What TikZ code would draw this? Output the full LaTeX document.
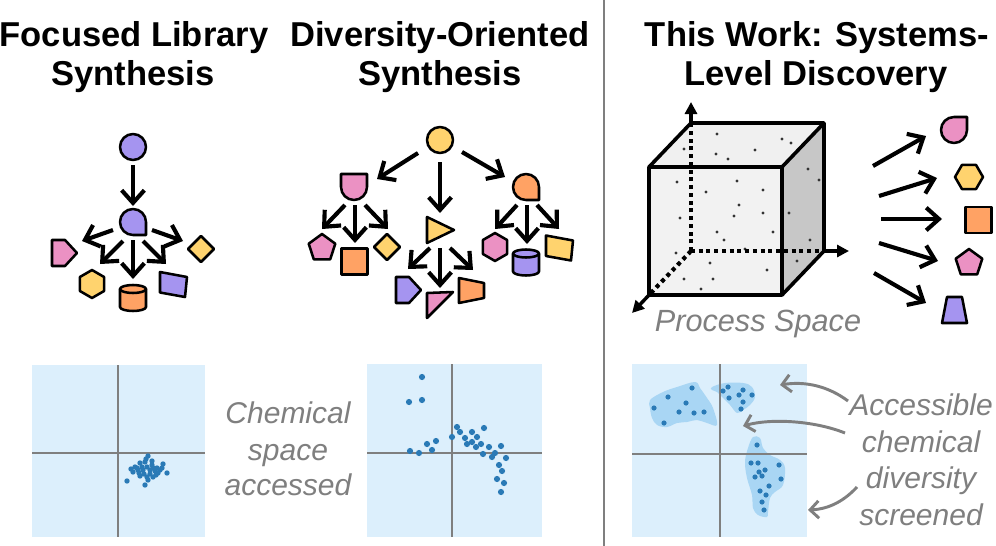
\documentclass[tikz,border=0pt]{standalone}
\usepackage{fontspec}
\setmainfont{Liberation Sans}
\usetikzlibrary{arrows.meta}
\definecolor{cpur}{HTML}{A594F0}
\definecolor{cpink}{HTML}{EB91C3}
\definecolor{cyel}{HTML}{FFD36E}
\definecolor{corg}{HTML}{FFA264}
\definecolor{gline}{HTML}{7F7F7F}
\definecolor{pbg}{HTML}{DCEFFC}
\definecolor{pblob}{HTML}{A9D6F4}
\definecolor{pdot}{HTML}{2A7AB6}
\begin{document}
\begin{tikzpicture}[x=0.75pt,y=-0.75pt,
  shp/.style={draw=black,line width=1.9pt,line join=round},
  arr/.style={line width=3.1pt,-{Straight Barb[length=9.5pt,width=17pt]}},
  garr/.style={draw=gline,line width=2.2pt,-{Straight Barb[length=6.5pt,width=13pt]}},
  head/.style={font=\fontsize{25.9}{30}\selectfont\bfseries,anchor=base,inner sep=0pt},
  gtxt/.style={font=\fontsize{22.5}{27}\selectfont\itshape,text=gline,anchor=base,inner sep=0pt},
  axline/.style={draw=gline,line width=2.2pt},
  dt/.style={fill=pdot},
  pics/circ/.style={code={\draw[shp,fill=#1] (0,0) circle[radius=13];}},
  pics/dropbr/.style={code={\draw[shp,fill=#1] (13,0) arc[start angle=0,end angle=-270,radius=13] -- (13,13) -- cycle;}},
  pics/droptr/.style={code={\draw[shp,fill=#1] (0,-13) arc[start angle=270,end angle=0,radius=13] -- (13,-13) -- cycle;}},
  pics/shield/.style={code={\draw[shp,fill=#1] (-13,-13) -- (13,-13) -- (13,0) arc[start angle=0,end angle=180,radius=13] -- cycle;}},
  pics/plate/.style={code={\draw[shp,fill=#1] (-12.5,-13) -- (0.5,-13) -- (12.5,0) -- (0.5,13) -- (-12.5,13) -- cycle;}},
  pics/hexp/.style={code={\draw[shp,fill=#1] (0,-14) -- (12.1,-7) -- (12.1,7) -- (0,14) -- (-12.1,7) -- (-12.1,-7) -- cycle;}},
  pics/hexf/.style={code={\draw[shp,fill=#1] (-14,0) -- (-7,-12.1) -- (7,-12.1) -- (14,0) -- (7,12.1) -- (-7,12.1) -- cycle;}},
  pics/cyl/.style={code={\draw[shp,fill=#1] (-13,-9) -- (-13,9) arc[start angle=180,end angle=0,x radius=13,y radius=4] -- (13,-9) arc[start angle=0,end angle=-180,x radius=13,y radius=4] -- cycle;
     \draw[shp] (-13,-9) arc[start angle=180,end angle=0,x radius=13,y radius=4];}},
  pics/diam/.style={code={\draw[shp,fill=#1] (0,-13) -- (13,0) -- (0,13) -- (-13,0) -- cycle;}},
  pics/sq/.style={code={\draw[shp,fill=#1] (-13,-13) rectangle (13,13);}},
  pics/pent/.style={code={\draw[shp,fill=#1] (0,-14) -- (13.3,-4.3) -- (8.2,11.3) -- (-8.2,11.3) -- (-13.3,-4.3) -- cycle;}},
  pics/trir/.style={code={\draw[shp,fill=#1] (-13,-13) -- (14,0) -- (-13,13) -- cycle;}},
  pics/trirt/.style={code={\draw[shp,fill=#1] (-13,-12) -- (13,-13) -- (-13,13) -- cycle;}},
  pics/trap/.style={code={\draw[shp,fill=#1] (-12.5,-12.5) -- (12.5,-7.5) -- (12.5,7.5) -- (-12.5,12.5) -- cycle;}},
  pics/quad/.style={code={\draw[shp,fill=#1] (-13,-12.5) -- (14,-7.5) -- (12,12.5) -- (-13,8) -- cycle;}},
  pics/trapu/.style={code={\draw[shp,fill=#1] (-7.5,-13) -- (7.5,-13) -- (12.5,13) -- (-12.5,13) -- cycle;}},
]
\useasboundingbox (0,0) rectangle (996,546);
\fill[white] (0,0) rectangle (996,546);

% divider
\draw[draw=gline,line width=1.3pt] (604,0) -- (604,546);

% headers
\node[head] (h1a) at (134,46) {Focused Library};
\node[head] (h1b) at (133,85) {Synthesis};
\node[head] (h2a) at (440,46) {Diversity-Oriented};
\node[head] (h2b) at (440,85) {Synthesis};
\node[head] (h3a) at (817,46) {This Work: Systems-};
\node[head] (h3b) at (816,85) {Level Discovery};

% ---------- left tree ----------
\pic at (133,147) {circ=cpur};
\pic at (133,222) {dropbr=cpur};
\pic at (64.5,253) {plate=cpink};
\pic at (92,284) {hexp=cyel};
\pic at (133,298) {cyl=corg};
\pic at (173,284.5) {quad=cpur};
\pic at (201,249) {diam=cyel};
\coordinate (la0) at (133,165); \coordinate (lb0) at (133,206);
\coordinate (la1) at (113,230); \coordinate (lb1) at (82,241);
\coordinate (la2) at (123,241); \coordinate (lb2) at (100,264);
\coordinate (la3) at (133,240); \coordinate (lb3) at (133,279);
\coordinate (la4) at (143,241); \coordinate (lb4) at (166,264);
\coordinate (la5) at (152,230); \coordinate (lb5) at (183,241);
\foreach \i in {0,...,5} {\draw[arr] (la\i) -- (lb\i);}

% ---------- middle tree ----------
\pic at (440,140) {circ=cyel};
\pic at (354,187) {shield=cpink};
\pic at (440,230) {trir=cyel};
\pic at (526,187) {dropbr=corg};
\pic at (322,248) {pent=cpink};
\pic at (354.5,261.5) {sq=corg};
\pic at (387,247) {diam=cyel};
\pic at (408.5,290) {plate=cpur};
\pic at (440,305) {trirt=cpink};
\pic at (471.5,290.5) {trap=corg};
\pic at (495,247) {hexp=cpink};
\pic at (526,262.5) {cyl=cpur};
\pic at (559,248) {quad=cyel};
\coordinate (ma1) at (418,153); \coordinate (mb1) at (377,179);
\coordinate (ma2) at (440,162); \coordinate (mb2) at (440,213);
\coordinate (ma3) at (462,152); \coordinate (mb3) at (505,177);
\coordinate (ma4) at (345,205); \coordinate (mb4) at (322,229);
\coordinate (ma5) at (355,205); \coordinate (mb5) at (355,243);
\coordinate (ma6) at (365,205); \coordinate (mb6) at (388,229);
\coordinate (ma7) at (430,248); \coordinate (mb7) at (408,269);
\coordinate (ma8) at (440,248); \coordinate (mb8) at (440,288);
\coordinate (ma9) at (450,248); \coordinate (mb9) at (473,270);
\coordinate (ma10) at (517,205); \coordinate (mb10) at (495,229);
\coordinate (ma11) at (527,205); \coordinate (mb11) at (527,244);
\coordinate (ma12) at (537,205); \coordinate (mb12) at (559,229);
\foreach \i in {1,...,12} {\draw[arr] (ma\i) -- (mb\i);}

% ---------- cube ----------
\coordinate (f1) at (649,167); \coordinate (f2) at (782,167);
\coordinate (f3) at (782,295); \coordinate (f4) at (649,295);
\coordinate (b1) at (691,123); \coordinate (b2) at (824,123);
\coordinate (b3) at (824,251); \coordinate (b4) at (691,251);
\coordinate (ax1) at (691,102); \coordinate (ax2) at (849,251); \coordinate (ax3) at (632,313);
\fill[black!6] (f1) -- (b1) -- (b2) -- (f2) -- cycle;
\fill[black!22] (f2) -- (b2) -- (b3) -- (f3) -- cycle;
\fill[black!5] (f1) -- (f2) -- (f3) -- (f4) -- cycle;
\foreach \p/\c in {677/182,737/181,706/192,763/190,739/205,680/218,734/216,763/213,717/232,724/240,773/232,676/253,710/263,767/270,713/279,684/279,701/289,745/249,717/134,782/139,791/143,684/149,716/154,728/159,755/150,808/169,819/180,789/213,810/240,797/261}
  {\fill[black!80] (\p,\c) circle[radius=1.6];}
\draw[line width=3.1pt,dash pattern=on 3pt off 2.8pt] (b4) -- (b1);
\draw[line width=3.1pt,dash pattern=on 3pt off 2.8pt] (b4) -- (b3);
\draw[line width=3.1pt,dash pattern=on 3pt off 2.8pt] (b4) -- (f4);
\draw[line width=2.6pt,-{Triangle[length=9pt,width=9pt]}] (b1) -- (ax1);
\draw[line width=2.6pt,-{Triangle[length=9pt,width=9pt]}] (b3) -- (ax2);
\draw[line width=2.6pt,-{Triangle[length=9pt,width=9pt]}] (f4) -- (ax3);
\draw[line width=2.7pt,line join=round] (f4) -- (f1) -- (b1) -- (b2) -- (b3) -- (f3) -- cycle (f1) -- (f2) -- (f3) (f2) -- (b2);
\node[gtxt,font=\fontsize{23}{27}\selectfont\itshape] (ps) at (758,331) {Process Space};

% right outputs
\pic at (954,130) {droptr=cpink};
\pic at (969,177) {hexf=cyel};
\pic at (978.5,220) {sq=corg};
\pic at (969,263) {pent=cpink};
\pic at (954.5,310) {trapu=cpur};
\coordinate (ra1) at (873,166); \coordinate (rb1) at (926,136);
\coordinate (ra2) at (879,196); \coordinate (rb2) at (937,178);
\coordinate (ra3) at (881,219); \coordinate (rb3) at (942,219);
\coordinate (ra4) at (879,243); \coordinate (rb4) at (938,261);
\coordinate (ra5) at (874,273); \coordinate (rb5) at (926,303);
\foreach \i in {1,...,5} {\draw[arr] (ra\i) -- (rb\i);}

% ---------- plot 1 ----------
\fill[pbg] (32,365) rectangle (205,537);
\draw[axline] (118,365) -- (118,537) (32,453) -- (205,453);
\foreach \p/\c in {148/456,135/467,140/463,145/462,152/465,157/468,163/464,167/473,127/481,145/485,147/477,153/477,158/473,133/472,138/470,143/470,150/470,160/470,142/467,147/467,137/468,155/471,150/474,144/474,139/473,146/459,152/461,140/476,156/475,131/469,148/480,153/468,162/468}
  {\fill[dt] (\p,\c) circle[radius=2.7];}
\node[gtxt] (c1) at (288,423) {Chemical};
\node[gtxt] (c2) at (288,460) {space};
\node[gtxt] (c3) at (288,495) {accessed};

% ---------- plot 2 ----------
\fill[pbg] (367,364) rectangle (542,537);
\draw[axline] (452,364) -- (452,537) (367,453) -- (542,453);
\foreach \p/\c in {422/377,409/402,422/400,457/427,460/432,452/437,465/438,472/432,484/428,477/437,467/444,472/442,476/447,481/444,489/447,501/446,483/454,492/457,495/453,506/458,499/465,502/471,497/479,504/483,501/492,436/441,427/444,432/450,410/451,419/453}
  {\fill[dt] (\p,\c) circle[radius=3.1];}

% ---------- plot 3 ----------
\fill[pbg] (632,364) rectangle (807,537);
\fill[pblob] plot[smooth cycle,tension=0.6] coordinates {(650,400) (663,392) (677,387) (695,382) (700,388) (707,398) (713,408) (717,425) (707,423) (697,420) (687,422) (677,423) (667,427) (657,425) (652,418) (650,408)};
\fill[pblob] plot[smooth cycle,tension=0.6] coordinates {(712,387) (725,383) (743,383) (752,387) (755,397) (750,405) (743,410) (737,413) (730,405) (723,398) (717,392) (712,390)};
\fill[pblob] plot[smooth cycle,tension=0.6] coordinates {(753,437) (760,438) (763,448) (770,455) (780,460) (785,468) (783,485) (775,492) (770,498) (768,512) (767,517) (758,515) (753,508) (752,495) (747,478) (745,462) (748,448)};
\draw[axline] (720,364) -- (720,537) (632,454) -- (807,454);
\foreach \p/\c in {692/388,668/397,686/403,654/408,679/412,694/413,704/412,664/423,728/387,723/391,743/390,739/395,752/395,729/398,743/402,741/409,757/445,751/463,758/463,779/465,765/470,759/472,755/477,762/476,781/479,769/486,760/491,766/495,762/502,764/510}
  {\fill[dt] (\p,\c) circle[radius=2.6];}

\node[gtxt] (t1) at (921,415) {Accessible};
\node[gtxt] (t2) at (921,452) {chemical};
\node[gtxt] (t3) at (921,488) {diversity};
\node[gtxt] (t4) at (921,525) {screened};
\coordinate (ga1) at (848,401); \coordinate (gb1) at (780,385);
\coordinate (ga2) at (845,433); \coordinate (gb2) at (743,426);
\coordinate (ga3) at (857,487); \coordinate (gb3) at (808,510);
\draw[garr] (ga1) .. controls (828,386) and (805,381) .. (gb1);
\draw[garr] (ga2) .. controls (815,421) and (772,418) .. (gb2);
\draw[garr] (ga3) .. controls (845,500) and (830,509) .. (gb3);
\end{tikzpicture}
\end{document}
